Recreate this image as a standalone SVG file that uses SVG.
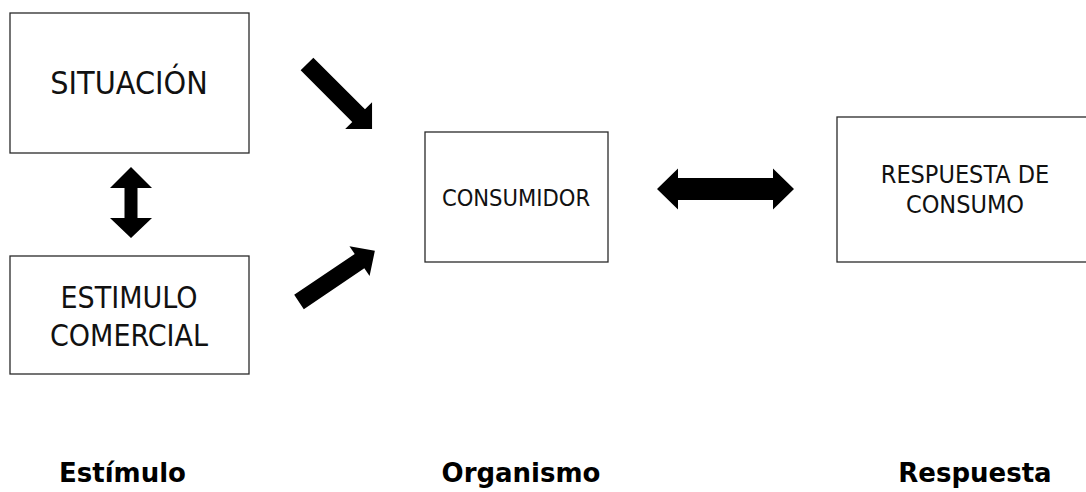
<svg xmlns="http://www.w3.org/2000/svg" width="1086" height="492" viewBox="0 0 1086 492">
<style>
.box{fill:#fff;stroke:#2a2a2a;stroke-width:1.3}
.t{font-family:"DejaVu Sans Condensed","DejaVu Sans",sans-serif;fill:#111;text-anchor:middle}
.b{font-family:"DejaVu Sans","Liberation Sans",sans-serif;font-weight:bold;fill:#000;text-anchor:middle;font-size:26px}
.arr{fill:#000}
</style>
<rect width="1086" height="492" fill="#fff"/>
<g id="situacion">
<rect class="box" x="10" y="13" width="239" height="140"/>
<text class="t" x="129" y="94" font-size="32">SITUACIÓN</text>
</g>
<g id="estimulo-comercial">
<rect class="box" x="10" y="256" width="239" height="118"/>
<text class="t" x="129" y="308" font-size="30">ESTIMULO</text>
<text class="t" x="129" y="346" font-size="30">COMERCIAL</text>
</g>
<g id="consumidor">
<rect class="box" x="425" y="132" width="183" height="130"/>
<text class="t" x="516" y="206" font-size="23.5">CONSUMIDOR</text>
</g>
<g id="respuesta">
<rect class="box" x="837" y="117" width="260" height="145"/>
<text class="t" x="965" y="183" font-size="25">RESPUESTA DE</text>
<text class="t" x="965" y="213" font-size="25">CONSUMO</text>
</g>
<g id="connectors">
<polygon class="arr" transform="translate(307,64) rotate(45)" points="0,-9 73,-9 73,-19 92,0 73,19 73,9 0,9"/>
<polygon class="arr" transform="translate(299,302) rotate(-34)" points="0,-8.6 73,-8.6 73,-18 91.5,0 73,18 73,8.6 0,8.6"/>
<polygon class="arr" points="131,167 152,188 137.5,188 137.5,218 152,218 131,238 110,218 124.5,218 124.5,188 110,188"/>
<polygon class="arr" points="657,189 678,168.5 678,178 773,178 773,168.5 794,189 773,209.5 773,200 678,200 678,209.5"/>
</g>
<g id="labels">
<text class="b" x="122.5" y="482">Estímulo</text>
<text class="b" x="521" y="482">Organismo</text>
<text class="b" x="975" y="482">Respuesta</text>
</g>
</svg>
